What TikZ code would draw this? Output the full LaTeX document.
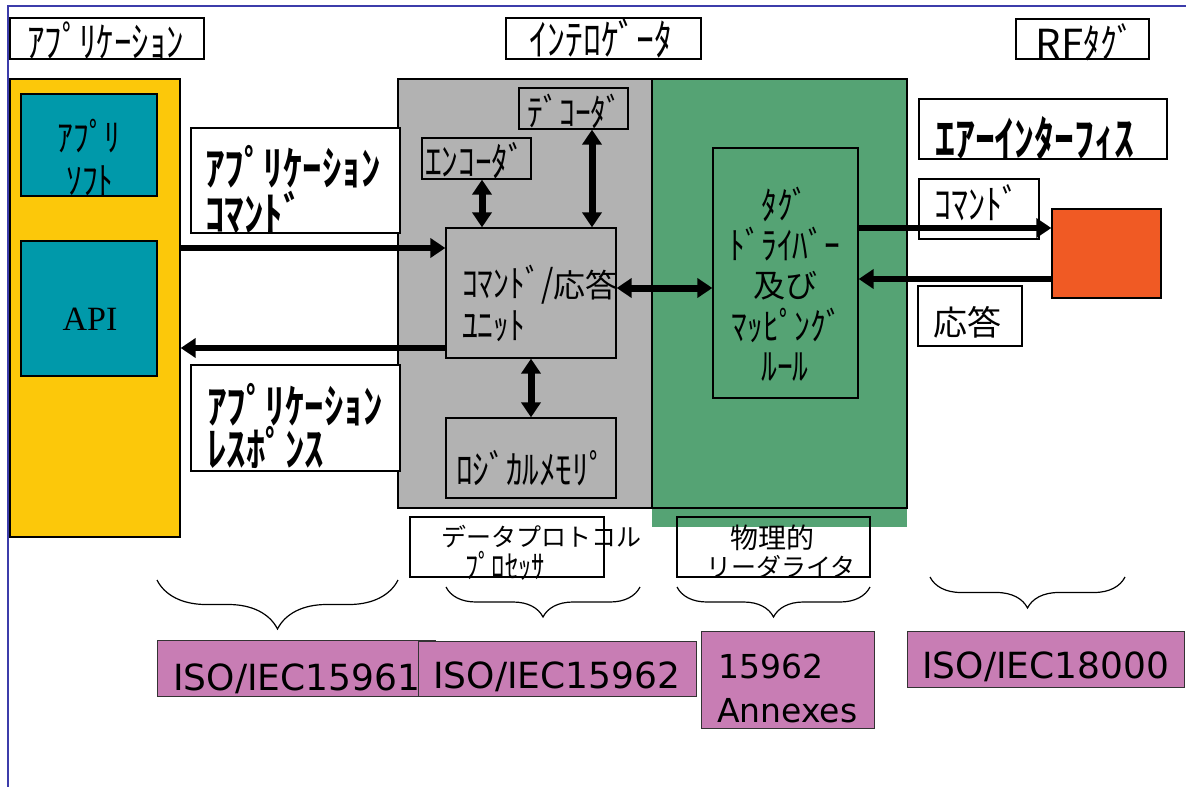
\documentclass[tikz,border=0pt]{standalone}
\usepackage{fontspec}
\newfontfamily\jp{Noto Sans CJK JP}
\newfontfamily\jpn[FakeStretch=0.83]{Noto Sans CJK JP}
\newfontfamily\jpnb[FakeStretch=0.83]{Noto Sans CJK JP Bold}
\newfontfamily\dvs{DejaVu Sans}
\newfontfamily\lser{Liberation Serif}
\usetikzlibrary{fit,arrows.meta,decorations.pathreplacing}
\definecolor{appyel}{RGB}{252,200,10}
\definecolor{apiteal}{RGB}{0,153,170}
\definecolor{intgray}{RGB}{178,178,178}
\definecolor{rdgreen}{RGB}{85,163,116}
\definecolor{tagorange}{RGB}{240,90,36}
\definecolor{stdpurple}{RGB}{200,125,180}
\definecolor{framecol}{RGB}{60,60,170}
\newcommand\setfs[1]{\fontsize{#1}{#1}\selectfont}
\tikzset{
  bx/.style={draw=black, line width=1.3pt, inner sep=0pt},
  pbx/.style={draw=black!80, line width=1pt, inner sep=0pt, fill=stdpurple},
  lbl/.style={inner sep=0pt, anchor=base west},
  lblc/.style={inner sep=0pt, anchor=base},
  j/.style={font={\jp\setfs{#1}}},
  k/.style={font={\jpn\setfs{#1}}},
  kb/.style={font={\jpnb\setfs{#1}}},
  iso/.style={font={\dvs\setfs{#1}}},
  arr/.style={line width=6.5pt, -{Triangle[length=15pt,width=19pt]}},
  darr/.style={line width=7pt, {Triangle[length=15pt,width=19pt]}-{Triangle[length=15pt,width=19pt]}},
  brc/.style={decorate, decoration={brace, mirror, amplitude=#1}, line width=1.2pt},
}
\begin{document}
\begin{tikzpicture}[x=1pt,y=-1pt]
\useasboundingbox (0,0) rectangle (1186,787);
% frame
\draw[framecol, line width=2pt] (8,787) -- (8,6) -- (1186,6);
% top titles
\node[bx, fit={(10,18)(204,59)}] (hApp) {};
\node[bx, fit={(506,18)(701,59)}] (hInt) {};
\node[bx, fit={(1016,19)(1149,59)}] (hTag) {};
% application
\node[bx, fill=appyel, fit={(10,79)(180,537)}] (yellow) {};
\node[bx, fill=apiteal, fit={(21,94)(157,196)}] (soft) {};
\node[bx, fill=apiteal, fit={(21,241)(157,376)}] (api) {};
% interrogator
\node[bx, fill=intgray, fit={(398,79)(652,508)}] (gray) {};
\fill[rdgreen] (652,508) rectangle (907,527);
\node[bx, fill=rdgreen, fit={(652,79)(907,508)}] (green) {};
% left labels
\node[bx, fill=white, fit={(191,128)(400,233)}] (cmdbox) {};
\node[bx, fill=white, fit={(191,365)(400,471)}] (respbox) {};
% inner boxes
\node[bx, fill=intgray, fit={(519,88)(628,129)}] (dec) {};
\node[bx, fill=intgray, fit={(422,138)(531,179)}] (enc) {};
\node[bx, fill=intgray, fit={(446,228)(616,358)}] (unit) {};
\node[bx, fill=intgray, fit={(446,418)(616,498)}] (mem) {};
\node[bx, fill=rdgreen, fit={(713,148)(858,398)}] (td) {};
% right side
\node[bx, fill=white, fit={(919,99)(1167,159)}] (airbox) {};
\node[bx, fill=white, fit={(919,179)(1039,239)}] (cmdbox2) {};
\node[bx, fill=white, fit={(918,286)(1022,346)}] (respbox2) {};
\node[bx, fill=tagorange, fit={(1052,209)(1161,298)}] (tag) {};
% texts
\node[lbl, k=42] (tApp) at (27,57) {ｱﾌﾟﾘｹｰｼｮﾝ};
\node[lblc, k=43] (tInt) at (601,55) {ｲﾝﾃﾛｹﾞｰﾀ};
\node[lblc, j=40] (tRF) at (1085,58) {RF{\jpn\setfs{41}ﾀｸﾞ}};
\node[lblc, k=38] (tSoft1) at (89,151) {ｱﾌﾟﾘ};
\node[lblc, k=38] (tSoft2) at (90,194) {ｿﾌﾄ};
\node[lblc, font={\lser\setfs{34}}] (tAPI) at (90,330) {API};
\node[lbl, kb=47] (tCmd1) at (205,185) {ｱﾌﾟﾘｹｰｼｮﾝ};
\node[lbl, kb=47] (tCmd2) at (205,231) {ｺﾏﾝﾄﾞ};
\node[lbl, kb=47] (tResp1) at (207,423) {ｱﾌﾟﾘｹｰｼｮﾝ};
\node[lbl, kb=47] (tResp2) at (207,466) {ﾚｽﾎﾟﾝｽ};
\node[lblc, k=38] (tDec) at (575,126) {ﾃﾞｺｰﾀﾞ};
\node[lbl, k=40] (tEnc) at (425,176) {ｴﾝｺｰﾀﾞ};
\node[lbl, k=38] (tUnit1) at (462,297) {ｺﾏﾝﾄﾞ/{\jp\setfs{32}応答}};
\node[lbl, k=38] (tUnit2) at (462,339) {ﾕﾆｯﾄ};
\node[lbl, k=40] (tMem) at (456,484) {ﾛｼﾞｶﾙﾒﾓﾘﾟ};
\node[lblc, k=38] (td1) at (785,219) {ﾀｸﾞ};
\node[lblc, k=38] (td2) at (785,259) {ﾄﾞﾗｲﾊﾞｰ};
\node[lblc, j=32] (td3) at (785,297) {及び};
\node[lblc, k=38] (td4) at (787,340) {ﾏｯﾋﾟﾝｸﾞ};
\node[lblc, k=38] (td5) at (785,380) {ﾙｰﾙ};
\node[lbl, kb=48] (tAir) at (935,156) {ｴｱｰｲﾝﾀｰﾌｨｽ};
\node[lbl, k=41] (tCmd3) at (934,219) {ｺﾏﾝﾄﾞ};
\node[lbl, j=34] (tResp3) at (933,335) {応答};
% connectors
\coordinate (ycmd) at (0,248);
\coordinate (yresp) at (0,348);
\coordinate (ytd) at (0,288);
\coordinate (yair1) at (0,228);
\coordinate (yair2) at (0,279);
\coordinate (xenc) at (482,0);
\coordinate (xdec) at (592,0);
\draw[arr] (yellow.east |- ycmd) -- (unit.west |- ycmd);
\draw[arr] (unit.west |- yresp) -- (yellow.east |- yresp);
\draw[darr] (enc.south -| xenc) -- (unit.north -| xenc);
\draw[darr] (dec.south -| xdec) -- (unit.north -| xdec);
\draw[darr] (unit.south) -- (mem.north);
\draw[darr] (unit.east |- ytd) -- (td.west |- ytd);
\draw[arr] (td.east |- yair1) -- (tag.west |- yair1);
\draw[arr] (tag.west |- yair2) -- (td.east |- yair2);
% bottom labels
\node[bx, fit={(410,517)(604,577)}] (dpbox) {};
\node[bx, fit={(677,517)(870,577)}] (prbox) {};
\node[lblc, j=25] (tDp1) at (541,546) {データプロトコル};
\node[lblc, k=32] (tDp2) at (505,578) {ﾌﾟﾛｾｯｻ};
\node[lblc, j=28] (tPr1) at (772,548) {物理的};
\node[lblc, j=25] (tPr2) at (781,576) {リーダライタ};
% braces
\draw[brc=49pt] (157,580) -- (398,580);
\draw[brc=30pt] (446,587) -- (640,587);
\draw[brc=30pt] (677,587) -- (870,587);
\draw[brc=31pt] (930,577) -- (1125,577);
% standards
\node[pbx, fit={(157,640)(435,696)}] (p1) {};
\node[pbx, fit={(418,641)(696,696)}] (p2) {};
\node[pbx, fit={(701,631)(874,728)}] (p3) {};
\node[pbx, fit={(907,631)(1184,687)}] (p4) {};
\node[lbl, iso=36] (tP1) at (173,690) {ISO/IEC15961};
\node[lbl, iso=36] (tP2) at (433,688) {ISO/IEC15962};
\node[lbl, iso=33] (tP3a) at (718,678) {15962};
\node[lbl, iso=33] (tP3b) at (717,722) {Annexes};
\node[lbl, iso=36] (tP4) at (922,678) {ISO/IEC18000};
\end{tikzpicture}
\end{document}
